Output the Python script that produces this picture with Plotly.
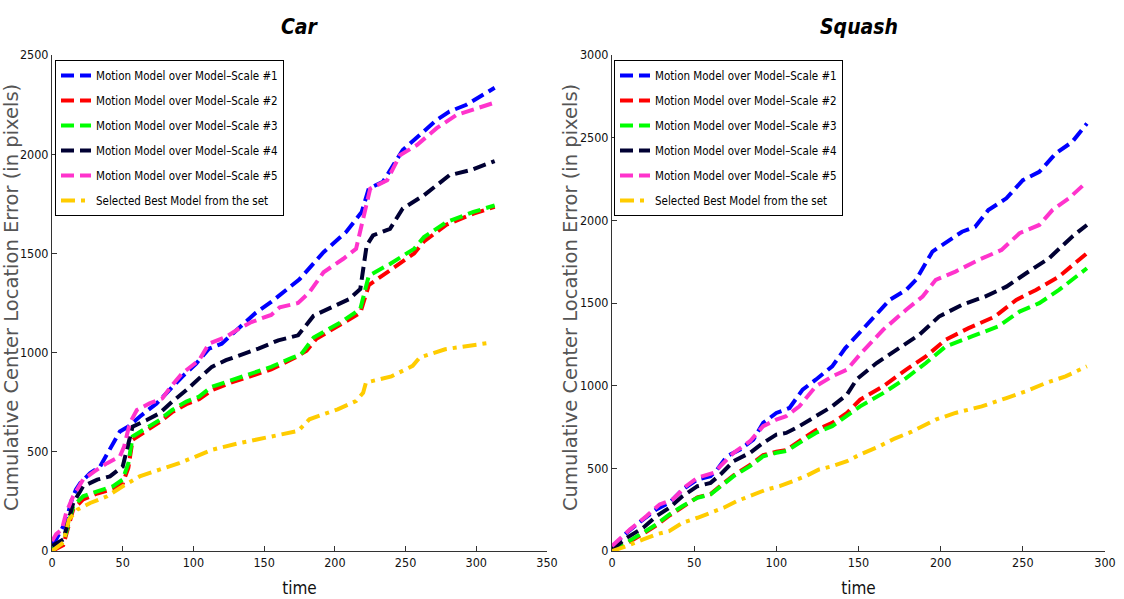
import plotly.graph_objects as go

# ---------------- data: Car ----------------
car_t1 = [0, 3, 8, 11, 14, 17, 20, 27, 34, 41, 48, 54, 62, 74, 83, 92, 102, 111, 120, 132, 144, 155, 161, 175, 192, 208, 219, 224, 234, 241, 248, 260, 272, 281, 293, 313]
car_v1 = [30, 60, 125, 180, 259, 310, 343, 393, 426, 510, 602, 627, 677, 744, 811, 878, 945, 1020, 1045, 1120, 1200, 1255, 1290, 1370, 1506, 1608, 1709, 1827, 1861, 1945, 2021, 2097, 2173, 2215, 2249, 2335]

car_t2 = [0, 8, 15, 22, 32, 43, 50, 54, 57, 67, 76, 85, 95, 104, 113, 127, 141, 155, 172, 180, 187, 204, 218, 224, 239, 256, 263, 279, 298, 313]
car_v2 = [0, 30, 210, 260, 290, 312, 340, 420, 560, 605, 650, 700, 740, 765, 810, 850, 885, 915, 975, 1010, 1070, 1140, 1200, 1340, 1415, 1500, 1560, 1645, 1700, 1735]

car_t3 = [0, 8, 15, 22, 32, 43, 50, 54, 57, 67, 76, 85, 95, 104, 113, 127, 141, 155, 170, 176, 185, 204, 218, 224, 239, 256, 263, 279, 298, 313]
car_v3 = [8, 42, 226, 276, 301, 326, 360, 443, 577, 619, 660, 711, 753, 778, 828, 861, 895, 928, 975, 990, 1076, 1152, 1220, 1388, 1447, 1523, 1582, 1658, 1709, 1742]

car_t4 = [0, 8, 15, 22, 32, 41, 50, 53, 57, 67, 76, 85, 95, 104, 113, 123, 137, 146, 160, 174, 185, 200, 210, 218, 222.5, 227, 239, 248, 263, 281, 296, 313]
car_v4 = [25, 58, 242, 326, 360, 376, 426, 510, 627, 660, 694, 753, 811, 870, 928, 962, 995, 1020, 1062, 1087, 1186, 1235, 1269, 1321, 1540, 1591, 1624, 1726, 1793, 1894, 1920, 1965]

car_t5 = [0, 3, 7, 10, 15, 22, 30, 39, 48, 51, 55, 60, 69, 78, 84, 92, 104, 111, 123, 132, 141, 155, 161, 174, 182, 192, 206, 215, 220, 225, 237, 246, 258, 272, 286, 303, 313]
car_v5 = [50, 85, 109, 192, 276, 360, 401, 443, 477, 527, 644, 711, 744, 769, 828, 895, 962, 1045, 1079, 1120, 1154, 1190, 1228, 1250, 1304, 1405, 1473, 1523, 1675, 1827, 1869, 1995, 2046, 2131, 2198, 2240, 2260]

car_t6 = [0, 8, 12, 18, 27, 39, 50, 62, 76, 90, 102, 113, 132, 151, 174, 182, 202, 215, 220, 222, 240, 255, 260, 278, 310]
car_v6 = [0, 42, 159, 209, 242, 276, 326, 376, 410, 443, 477, 510, 543, 569, 605, 664, 714, 756, 798, 849, 880, 933, 975, 1017, 1050]

# ---------------- data: Squash ----------------
sq_t1 = [0, 9, 19, 27, 35, 43, 52, 60, 64, 70, 78, 86, 92, 100, 108, 116, 124, 134, 142, 152, 169, 179, 185, 195, 205, 213, 221, 229, 240, 250, 260, 270, 280, 289]
sq_v1 = [20, 111, 191, 252, 292, 372, 433, 453, 493, 573, 614, 674, 775, 835, 865, 976, 1036, 1117, 1227, 1338, 1519, 1579, 1640, 1811, 1881, 1931, 1961, 2062, 2133, 2243, 2293, 2404, 2474, 2585]

sq_t2 = [0, 9, 19, 27, 35, 43, 52, 60, 66, 74, 84, 92, 100, 106, 114, 124, 134, 143, 151, 165, 179, 191, 203, 217, 233, 246, 258, 272, 289]
sq_v2 = [0, 45, 105, 155, 215, 270, 325, 345, 395, 458, 520, 580, 600, 610, 665, 730, 775, 835, 915, 996, 1097, 1177, 1278, 1348, 1418, 1519, 1579, 1660, 1801]

sq_t3 = [0, 9, 19, 27, 35, 43, 52, 60, 66, 74, 84, 92, 100, 106, 114, 124, 134, 143, 151, 165, 179, 191, 203, 219, 235, 248, 260, 272, 289]
sq_v3 = [0, 50, 111, 161, 221, 272, 322, 342, 392, 453, 513, 573, 594, 604, 654, 714, 755, 815, 875, 955, 1046, 1137, 1237, 1298, 1358, 1448, 1499, 1579, 1710]

sq_t4 = [0, 9, 19, 27, 35, 43, 52, 60, 66, 74, 84, 92, 100, 106, 114, 124, 134, 143, 149, 161, 173, 187, 199, 213, 227, 240, 252, 266, 280, 289]
sq_v4 = [10, 80, 141, 211, 262, 332, 392, 412, 463, 543, 594, 654, 704, 714, 755, 815, 875, 946, 1040, 1137, 1217, 1308, 1418, 1489, 1539, 1599, 1680, 1771, 1901, 1972]

sq_t5 = [0, 11, 21, 29, 37, 45, 52, 62, 66, 74, 84, 92, 100, 106, 114, 124, 134, 143, 151, 165, 179, 189, 197, 209, 223, 237, 248, 260, 268, 278, 289]
sq_v5 = [30, 131, 211, 282, 312, 392, 443, 473, 513, 594, 664, 755, 795, 815, 875, 996, 1056, 1097, 1190, 1338, 1459, 1539, 1640, 1690, 1760, 1821, 1922, 1972, 2062, 2133, 2233]

sq_t6 = [0, 9, 19, 27, 35, 43, 52, 60, 68, 76, 86, 94, 102, 110, 118, 126, 134, 143, 151, 162, 172, 182, 197, 209, 225, 240, 252, 264, 276, 289]
sq_v6 = [0, 30, 70, 101, 121, 171, 201, 231, 262, 302, 342, 372, 392, 423, 453, 493, 513, 543, 584, 630, 680, 720, 795, 835, 875, 925, 966, 1016, 1056, 1117]

names = [
    "Motion Model over Model–Scale #1",
    "Motion Model over Model–Scale #2",
    "Motion Model over Model–Scale #3",
    "Motion Model over Model–Scale #4",
    "Motion Model over Model–Scale #5",
    "Selected Best Model from the set",
]
colors = ["#0000FF", "#FF0000", "#00FF00", "#000033", "#FF33CC", "#FFCC00"]
dashes = ["13px,6px"] * 5 + ["14px,6px,4px,6px"]

car_x_ticks = [0, 50, 100, 150, 200, 250, 300, 350]
car_y_ticks = [0, 500, 1000, 1500, 2000, 2500]
sq_x_ticks = [0, 50, 100, 150, 200, 250, 300]
sq_y_ticks = [0, 500, 1000, 1500, 2000, 2500, 3000]

car_series = [(car_t1, car_v1), (car_t2, car_v2), (car_t3, car_v3), (car_t4, car_v4), (car_t5, car_v5), (car_t6, car_v6)]
sq_series = [(sq_t1, sq_v1), (sq_t2, sq_v2), (sq_t3, sq_v3), (sq_t4, sq_v4), (sq_t5, sq_v5), (sq_t6, sq_v6)]

Y_LABEL = "Cumulative Center Location Error (in pixels)"
NARROW = "DejaVu Sans Condensed, Liberation Sans Narrow, Roboto, sans-serif"

fig = go.Figure()
for i, (t, v) in enumerate(car_series):
    fig.add_trace(go.Scatter(x=t, y=v, mode="lines", name=names[i],
                             legendgroup="car%d" % i,
                             line=dict(color=colors[i], width=4, dash=dashes[i]),
                             xaxis="x", yaxis="y", legend="legend"))
for i, (t, v) in enumerate(sq_series):
    fig.add_trace(go.Scatter(x=t, y=v, mode="lines", name=names[i],
                             legendgroup="sq%d" % i,
                             line=dict(color=colors[i], width=4, dash=dashes[i]),
                             xaxis="x2", yaxis="y2", legend="legend2"))

W, H = 1124, 599
def px_x(p):
    return p / W
def px_y(p):
    return (H - p) / H

axis_common = dict(showline=True, linecolor="#333333", linewidth=1, ticks="inside",
                   ticklen=5, tickcolor="#333333", showgrid=False, zeroline=False,
                   mirror=False, automargin=False,
                   tickfont=dict(family=NARROW, size=12.5, color="#111111"))
xtitle = dict(text="time", font=dict(family=NARROW, size=17, color="#111111"), standoff=13)

legend_common = dict(xanchor="left", yanchor="top",
                     bgcolor="white", bordercolor="black", borderwidth=1,
                     font=dict(family=NARROW, size=11.5, color="black"),
                     itemwidth=30, tracegroupgap=6)

ytitle_font = dict(family="DejaVu Sans", size=19.5, color="#555555")

fig.update_layout(
    width=W, height=H,
    template="none",
    paper_bgcolor="white", plot_bgcolor="white",
    margin=dict(l=0, r=0, t=0, b=0),
    showlegend=True,
    xaxis=dict(domain=[px_x(52), px_x(547)], range=[0, 350], tickvals=car_x_ticks,
               anchor="y", title=xtitle, **axis_common),
    yaxis=dict(domain=[px_y(551), px_y(55)], range=[0, 2500], tickvals=car_y_ticks,
               anchor="x", **axis_common),
    xaxis2=dict(domain=[px_x(612), px_x(1105)], range=[0, 300], tickvals=sq_x_ticks,
                anchor="y2", title=xtitle, **axis_common),
    yaxis2=dict(domain=[px_y(551), px_y(55)], range=[0, 3000], tickvals=sq_y_ticks,
                anchor="x2", **axis_common),
    legend=dict(x=px_x(55), y=px_y(60), **legend_common),
    legend2=dict(x=px_x(614), y=px_y(60), **legend_common),
    annotations=[
        dict(text="<b><i>Car</i></b>", x=(px_x(52) + px_x(547)) / 2, y=px_y(27),
             xref="paper", yref="paper", showarrow=False,
             xanchor="center", yanchor="middle",
             font=dict(family=NARROW, size=21, color="black")),
        dict(text="<b><i>Squash</i></b>", x=(px_x(612) + px_x(1105)) / 2, y=px_y(27),
             xref="paper", yref="paper", showarrow=False,
             xanchor="center", yanchor="middle",
             font=dict(family=NARROW, size=21, color="black")),
        dict(text=Y_LABEL, x=px_x(11), y=px_y(298), textangle=-90,
             xref="paper", yref="paper", showarrow=False,
             xanchor="center", yanchor="middle", font=ytitle_font),
        dict(text=Y_LABEL, x=px_x(570), y=px_y(298), textangle=-90,
             xref="paper", yref="paper", showarrow=False,
             xanchor="center", yanchor="middle", font=ytitle_font),
    ],
)

fig.write_html("out.html", config={"displayModeBar": False},
               post_script="document.body.style.margin='0';")
